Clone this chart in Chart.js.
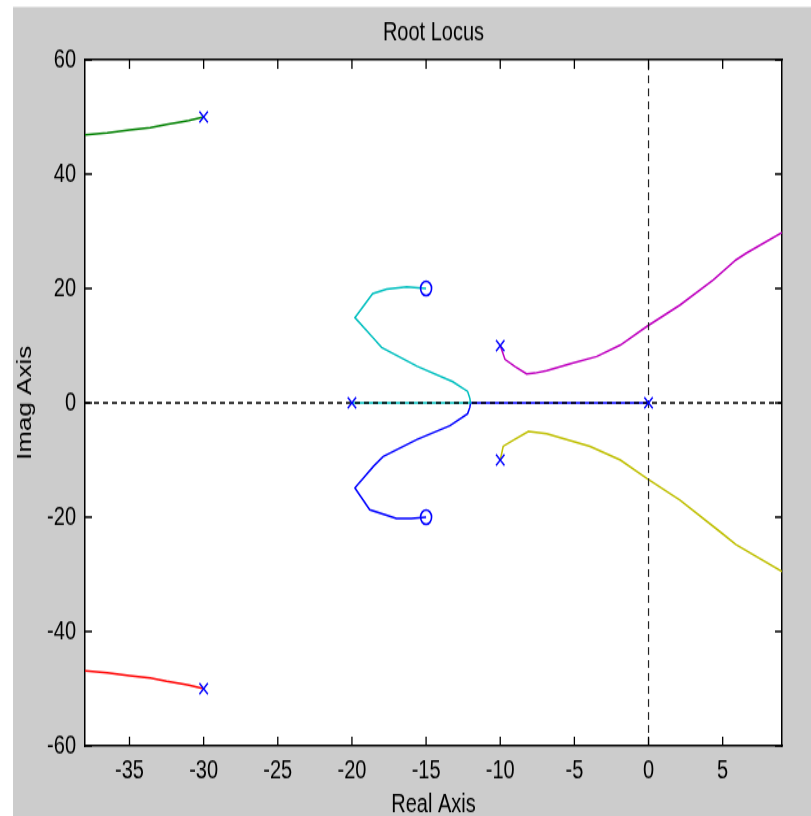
<!DOCTYPE html>
<html>
<head>
<meta charset="utf-8">
<script src="https://cdn.jsdelivr.net/npm/chart.js@4.4.1/dist/chart.umd.min.js"></script>
<style>
  html, body { margin: 0; padding: 0; background: #ffffff; overflow: hidden; width: 811px; height: 816px; }
  #wrap { position: absolute; left: 0; top: 0; width: 811px; height: 640px;
          transform: scaleY(1.29936); transform-origin: 0 0; }
  canvas { display: block; }
</style>
</head>
<body>
<div id="wrap"><canvas id="c" width="811" height="640"></canvas></div>
<script>
// ---- axis ranges and ticks ----
const xLimits = [-38, 9];
const yLimits = [-60, 60];
const xTicks = [-35, -30, -25, -20, -15, -10, -5, 0, 5];
const yTicks = [-60, -40, -20, 0, 20, 40, 60];

// ---- root locus branches (real, imag) ----
const branchGreen = [[-30, 50], [-31, 49.4], [-31.6, 49.1], [-32.5, 48.7], [-33.6, 48.1], [-35, 47.7], [-36.5, 47.2], [-38, 46.9]];
const branchRed = [[-30, -50], [-31, -49.4], [-31.6, -49.1], [-32.5, -48.7], [-33.6, -48.1], [-35, -47.7], [-36.5, -47.2], [-38, -46.9]];
const branchCyan = [[-20, 0], [-12, 0], [-12.05, 0.8], [-12.2, 2.0], [-13.2, 3.7], [-15.6, 6.4], [-18.0, 9.7], [-18.55, 11.3], [-19.8, 14.9], [-18.6, 19.1], [-17.66, 19.9], [-16.3, 20.3], [-15.0, 20]];
const branchBlue = [[0, 0], [-12, 0], [-12.05, -0.8], [-12.2, -1.9], [-13.4, -4.0], [-15.6, -6.4], [-17.9, -9.4], [-18.55, -11.1], [-19.8, -14.9], [-18.8, -18.7], [-17.0, -20.2], [-16.0, -20.2], [-15.0, -20]];
const branchMagenta = [[-10, 10], [-9.9, 9.3], [-9.68, 7.6], [-9.0, 6.35], [-8.22, 5.07], [-7.66, 5.2], [-6.87, 5.65], [-5.3, 6.8], [-3.5, 8.1], [-1.9, 10.1], [-0.12, 13.35], [2.12, 17.1], [4.37, 21.5], [5.9, 25.0], [6.6, 26.2], [9.0, 29.8]];
const branchYellow = [[-10, -10], [-9.8, -7.6], [-9.1, -6.5], [-8.1, -5.0], [-6.87, -5.4], [-3.95, -7.6], [-1.9, -10.0], [-0.12, -13.2], [2.12, -17.0], [4.8, -22.5], [5.9, -24.8], [9.0, -29.5]];

// ---- poles (x) and zeros (o) ----
const poles = [[-30, 50], [-30, -50], [-20, 0], [-10, 10], [-10, -10], [0, 0]];
const zeros = [[-15, 20], [-15, -20]];

const toXY = arr => arr.map(p => ({ x: p[0], y: p[1] }));
const FONT = "'Liberation Sans', Arial, Helvetica, sans-serif";

function locus(data, color) {
  return { data: toXY(data), showLine: true, borderColor: color, borderWidth: 1.5,
           pointRadius: 0, fill: false, tension: 0, clip: 0, order: 3 };
}

const bgPlugin = {
  id: 'bg',
  beforeDraw(chart) {
    const { ctx, chartArea: a, width, height } = chart;
    ctx.save();
    ctx.fillStyle = '#ffffff';
    ctx.fillRect(0, 0, width, height);
    ctx.fillStyle = '#cccccc';
    ctx.fillRect(13, 5.4, width - 13, height - 5.4);
    ctx.fillStyle = '#ffffff';
    ctx.fillRect(a.left, a.top, a.right - a.left, a.bottom - a.top);
    ctx.restore();
  }
};

const tickPlugin = {
  id: 'inTicks',
  afterDraw(chart) {
    const { ctx, chartArea: a } = chart;
    const sx = chart.scales.x, sy = chart.scales.y;
    ctx.save();
    ctx.strokeStyle = '#000';
    ctx.lineWidth = 1.3;
    ctx.beginPath();
    xTicks.forEach(v => {
      const px = sx.getPixelForValue(v);
      ctx.moveTo(px, a.bottom); ctx.lineTo(px, a.bottom - 7);
      ctx.moveTo(px, a.top); ctx.lineTo(px, a.top + 7);
    });
    yTicks.forEach(v => {
      const py = sy.getPixelForValue(v);
      ctx.moveTo(a.left, py); ctx.lineTo(a.left + 7, py);
      ctx.moveTo(a.right, py); ctx.lineTo(a.right - 7, py);
    });
    ctx.stroke();
    ctx.restore();
  }
};

const setTicks = vals => scale => { scale.ticks = vals.map(v => ({ value: v })); };

new Chart(document.getElementById('c'), {
  type: 'scatter',
  data: {
    datasets: [
      { data: toXY(poles), pointStyle: 'crossRot', pointRadius: 6, pointBorderColor: '#0000ff',
        pointBorderWidth: 1.4, showLine: false, order: 1 },
      { data: toXY(zeros), pointStyle: 'circle', pointRadius: 5.5, pointBorderColor: '#0000ff',
        pointBackgroundColor: 'rgba(0,0,0,0)', pointBorderWidth: 1.6, showLine: false, order: 1 },
      { data: [{ x: xLimits[0], y: 0 }, { x: xLimits[1], y: 0 }], showLine: true, borderColor: '#000',
        borderWidth: 1.5, borderDash: [5, 4], pointRadius: 0, order: 2 },
      { data: [{ x: 0, y: yLimits[0] }, { x: 0, y: yLimits[1] }], showLine: true, borderColor: '#222',
        borderWidth: 1.2, borderDash: [6, 4], pointRadius: 0, order: 2 },
      locus(branchGreen, '#008000'),
      locus(branchRed, '#ff0000'),
      locus(branchCyan, '#00bfbf'),
      locus(branchBlue, '#0000ff'),
      locus(branchMagenta, '#bf00bf'),
      locus(branchYellow, '#bfbf00')
    ]
  },
  options: {
    responsive: false,
    devicePixelRatio: 1,
    animation: false,
    events: [],
    layout: { padding: 0 },
    plugins: { legend: { display: false }, tooltip: { enabled: false }, title: { display: false } },
    scales: {
      x: {
        type: 'linear', position: 'bottom', min: xLimits[0], max: xLimits[1],
        afterBuildTicks: setTicks(xTicks),
        afterFit: s => { s.height = 66; },
        grid: { display: false, drawTicks: false },
        border: { display: true, color: '#000', width: 1.5 },
        ticks: { color: '#000', padding: 7, maxRotation: 0, autoSkip: false, font: { family: FONT, size: 20 } },
        title: { display: true, text: 'Real Axis', color: '#000', padding: { top: 0, bottom: 9 }, font: { family: FONT, size: 20 } }
      },
      x2: {
        type: 'linear', position: 'top', min: xLimits[0], max: xLimits[1],
        afterBuildTicks: setTicks(xTicks),
        afterFit: s => { s.height = 46; },
        grid: { display: false, drawTicks: false },
        border: { display: true, color: '#000', width: 1.5 },
        ticks: { display: false },
        title: { display: true, text: 'Root Locus', color: '#000', padding: { top: 13, bottom: 0 }, font: { family: FONT, size: 20 } }
      },
      y: {
        type: 'linear', position: 'left', min: yLimits[0], max: yLimits[1],
        afterBuildTicks: setTicks(yTicks),
        afterFit: s => { s.width = 85; },
        grid: { display: false, drawTicks: false },
        border: { display: true, color: '#000', width: 1.5 },
        ticks: { color: '#000', padding: 9, autoSkip: false, font: { family: FONT, size: 20 } },
        title: { display: true, text: 'Imag Axis', color: '#000', padding: { top: 13.5, bottom: 0 }, font: { family: FONT, size: 20 } }
      },
      y2: {
        type: 'linear', position: 'right', min: yLimits[0], max: yLimits[1],
        afterBuildTicks: setTicks(yTicks),
        afterFit: s => { s.width = 29; },
        grid: { display: false, drawTicks: false },
        border: { display: true, color: '#000', width: 1.5 },
        ticks: { display: false },
        title: { display: false }
      }
    }
  },
  plugins: [bgPlugin, tickPlugin]
});
</script>
</body>
</html>
